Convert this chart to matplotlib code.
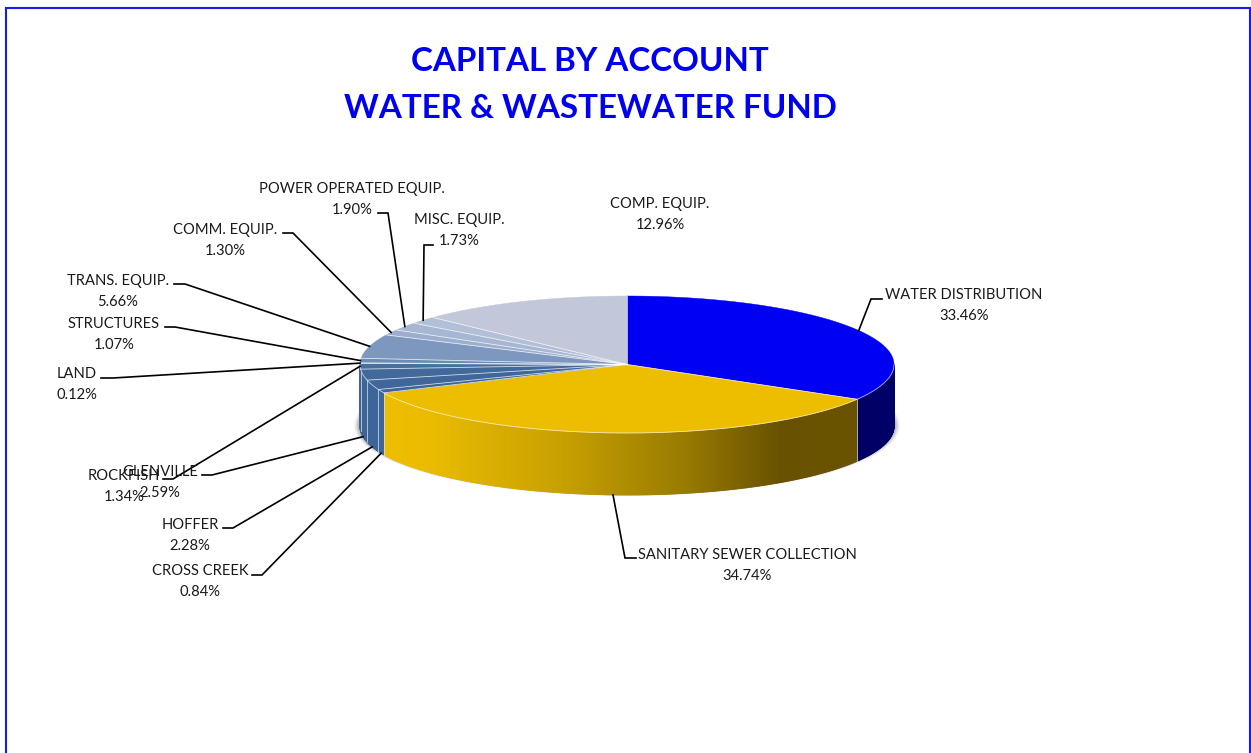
import numpy as np
import matplotlib
matplotlib.use("Agg")
import matplotlib.pyplot as plt
from matplotlib.collections import PolyCollection
from matplotlib.patches import Polygon, Ellipse
from matplotlib.colors import to_rgb

plt.rcParams['font.family'] = ['Lato', 'DejaVu Sans']

title_lines = ["CAPITAL BY ACCOUNT", "WATER & WASTEWATER FUND"]
names = ["WATER DISTRIBUTION", "SANITARY SEWER COLLECTION", "CROSS CREEK", "HOFFER",
         "GLENVILLE", "ROCKFISH", "LAND", "STRUCTURES", "TRANS. EQUIP.",
         "COMM. EQUIP.", "POWER OPERATED EQUIP.", "MISC. EQUIP.", "COMP. EQUIP."]
values = [33.46, 34.74, 0.84, 2.28, 2.59, 1.34, 0.12, 1.07, 5.66, 1.30, 1.90, 1.73, 12.96]
top_colors = ["#0000F2", "#EDBE00", "#3D6598", "#3F6799", "#41699C", "#45709F", "#5A80AD",
              "#6C8BB6", "#7E97BF", "#9BAECD", "#A6B6D3", "#B1BFD7", "#C2C8D9"]
wall_colors = ["#000066", "#EDBE00", "#3D6598", "#3D6598", "#3D6598", "#3D6598", "#3D6598",
               "#3D6598", "#3D6598", "#3D6598", "#3D6598", "#3D6598", "#3D6598"]

# label centre, elbow and text-side end of each leader (None: no leader)
label_xy = [(964, 304), (747, 564), (200, 580), (190, 534), (160, 481), (124, 485), (77, 383),
            (114, 333), (118, 290), (225, 239), (352, 198), (459, 229), (660, 213)]
elbow_xy = [(871, 299), (625, 558), (262, 575), (233, 528), (212, 475), (173, 479), (113, 378),
            (175, 327), (185, 284), (293, 233), (388, 213), (424, 245), None]
end_xy = [(882, 299), (636, 558), (252, 575), (223, 528), (202, 475), (163, 479), (101, 378),
          (165, 327), (174, 284), (283, 233), (378, 213), (433, 245), None]

CX, CY, RX, RY, DEPTH = 627.0, 364.5, 267.0, 68.5, 62.0
W, H = 1251, 753

fig = plt.figure(figsize=(W / 100, H / 100), dpi=100, facecolor="white")
ax = fig.add_axes([0, 0, 1, 1])
ax.set_xlim(0, W)
ax.set_ylim(H, 0)
ax.axis("off")

# chart frame (open at the bottom)
ax.plot([6, 6, 1250, 1250], [H, 8, 8, H], color="#1A1AF0", lw=1.5, solid_joinstyle="miter", zorder=1)

for line, y in zip(title_lines, (59, 106)):
    ax.text(590, y + 2, line, color="#0000F0", fontsize=23.85, fontweight="bold", ha="center", va="center", zorder=10)


def rim(theta_deg):
    t = np.radians(theta_deg)
    return CX + RX * np.sin(t), CY - RY * np.cos(t)


# soft shadow
for grow, alpha in zip((6, 5, 4, 3, 2, 1), (0.05, 0.07, 0.09, 0.12, 0.14, 0.16)):
    ax.add_patch(Ellipse((CX, CY + DEPTH - 1), 2 * (RX + grow), 2 * (RY + grow * 0.35),
                         facecolor="#555555", edgecolor="none", alpha=alpha, zorder=2))

edges = 360 * np.concatenate(([0], np.cumsum(values))) / np.sum(values)
edges[-1] = 360.0


def sanitary_shade(x):
    stops_x = [383, 430, 560, 680, 780, 860]
    stops_c = [to_rgb(c) for c in ("#EDBE00", "#EBBC00", "#C9A100", "#9A7C00", "#685100", "#6A5300")]
    return tuple(np.interp(x, stops_x, [c[i] for c in stops_c]) for i in range(3))


# side wall
for i, (a, b) in enumerate(zip(edges[:-1], edges[1:])):
    lo, hi = max(a, 90), min(b, 270)
    if hi <= lo:
        continue
    th = np.linspace(lo, hi, max(2, int((hi - lo) * 3)))
    xs, ys = rim(th)
    quads, cols = [], []
    for j in range(len(th) - 1):
        quads.append([(xs[j], ys[j]), (xs[j + 1], ys[j + 1]),
                      (xs[j + 1], ys[j + 1] + DEPTH), (xs[j], ys[j] + DEPTH)])
        cols.append(sanitary_shade((xs[j] + xs[j + 1]) / 2) if i == 1 else to_rgb(wall_colors[i]))
    ax.add_collection(PolyCollection(quads, facecolors=cols, edgecolors=cols, linewidths=0.6, zorder=3))
    if 90 < a < 270:
        x0, y0 = rim(a)
        ax.plot([x0, x0], [y0, y0 + DEPTH], color="white", lw=0.6, alpha=0.7, zorder=4)

# top surface
for i, (a, b) in enumerate(zip(edges[:-1], edges[1:])):
    th = np.linspace(a, b, max(3, int((b - a) * 3)))
    xs, ys = rim(th)
    pts = np.column_stack((np.r_[CX, xs], np.r_[CY, ys]))
    ax.add_patch(Polygon(pts, closed=True, facecolor=top_colors[i], edgecolor=top_colors[i], lw=0.3, zorder=5))
for a in edges[:-1]:
    x0, y0 = rim(a)
    ax.plot([CX, x0], [CY, y0], color="white", lw=0.6, alpha=0.75, zorder=6)
th = np.linspace(90, 270, 400)
xs, ys = rim(th)
ax.plot(xs, ys, color="white", lw=0.6, alpha=0.7, zorder=6)

# labels and leaders
for i, name in enumerate(names):
    lx, ly = label_xy[i]
    ax.text(lx, ly + 1.5, f"{name}\n{values[i]:.2f}%", color="#1a1a1a", fontsize=10.6, ha="center", va="center",
            linespacing=1.62, zorder=8)
    if elbow_xy[i] is None:
        continue
    mid = (edges[i] + edges[i + 1]) / 2
    ax_, ay_ = rim(mid)
    if 120 < mid < 265:
        ay_ += DEPTH
    ex, ey = elbow_xy[i]
    tx, ty = end_xy[i]
    ax.plot([ax_, ex, tx], [ay_, ey, ty], color="black", lw=1.2, solid_joinstyle="miter", zorder=7)

fig.savefig("out.png", dpi=100, facecolor="white")
